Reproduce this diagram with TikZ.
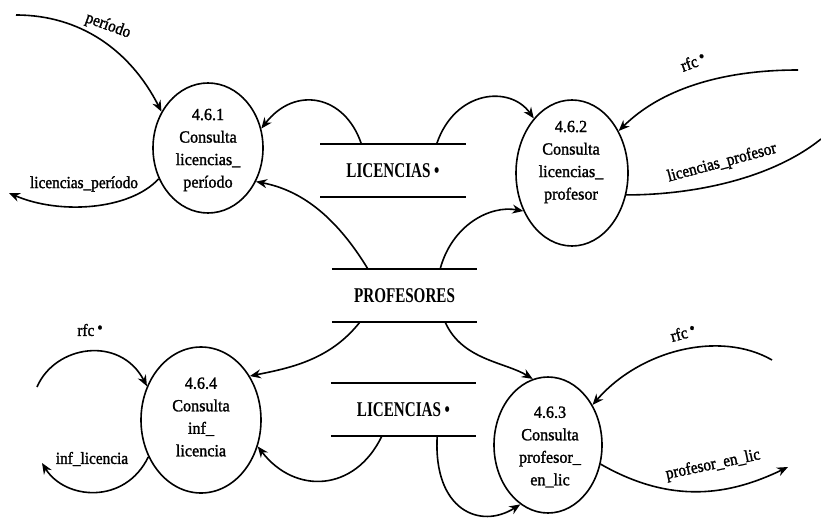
\documentclass[tikz,border=0pt]{standalone}
\usepackage{fontspec}
\setmainfont{Liberation Serif}
\newfontfamily\storefont[FakeStretch=0.72]{Liberation Serif Bold}
\newfontfamily\flowfont[FakeStretch=0.9,FakeBold=1.5]{Liberation Serif}
\newfontfamily\procfont[FakeStretch=0.95,FakeBold=1.5]{Liberation Serif}
\usetikzlibrary{shapes.geometric,arrows.meta}
\newcommand{\dotmark}{\hspace{3pt}\raisebox{0.35ex}{•}}
\tikzset{
  proc/.style={ellipse, draw, line width=1.6pt, inner sep=0pt},
  proctext/.style={align=center, inner sep=0pt,
    font=\procfont\fontsize{17}{22.5}\selectfont},
  store/.style={rectangle, inner sep=0pt, minimum width=145pt,
    font=\storefont\fontsize{21}{24}\selectfont},
  storeline/.style={line width=1.5pt},
  flow/.style={line width=1.6pt, -{Stealth[length=11pt,width=9pt]}},
  plainflow/.style={line width=1.6pt},
  flowlabel/.style={inner sep=1pt, font=\flowfont\fontsize{17}{20}\selectfont},
}
\begin{document}
\begin{tikzpicture}[x=1pt,y=-1pt]
\useasboundingbox (0,0) rectangle (821,522);

% processes: outline and caption
\node[proc, minimum width=110pt, minimum height=130pt] (p1) at (208,148) {};
\node[proctext] (p1t) at (208,150) {4.6.1\\Consulta\\licencias\_\\período};
\node[proc, minimum width=112pt, minimum height=146pt] (p2) at (572,173) {};
\node[proctext] (p2t) at (571,162) {4.6.2\\Consulta\\licencias\_\\profesor};
\node[proc, minimum width=120pt, minimum height=146pt] (p4) at (201,420) {};
\node[proctext] (p4t) at (201,417) {4.6.4\\Consulta\\inf\_\\licencia};
\node[proc, minimum width=108pt, minimum height=136pt] (p3) at (548,445) {};
\node[proctext] (p3t) at (550,447) {4.6.3\\Consulta\\profesor\_\\en\_lic};

% data stores
\node[store, minimum height=53pt] (s1) at (393,170.5) {LICENCIAS •};
\node[store, minimum height=53pt] (s2) at (404.5,295.5) {PROFESORES};
\node[store, minimum height=53pt] (s3) at (403.5,409.5) {LICENCIAS •};
\foreach \s in {s1,s2,s3}{
  \draw[storeline] (\s.north west) -- (\s.north east);
  \draw[storeline] (\s.south west) -- (\s.south east);
}

% external ends
\coordinate (e1) at (16,15);
\coordinate (e2) at (9,193);
\coordinate (e3) at (798,70);
\coordinate (e4) at (821,139);
\coordinate (e5) at (37,387);
\coordinate (e6) at (42,463);
\coordinate (e7) at (772,360);
\coordinate (e8) at (788,467);

% flows of 4.6.1
\draw[flow] (e1) .. controls (80,15) and (130,50) .. (p1.142);
\draw[flow] (p1.212) .. controls (130,210) and (60,215) .. (e2);
\draw[flow] ([xshift=41pt]s1.north west) .. controls (345,95) and (295,85) .. (p1.20);
\draw[flow] ([xshift=36pt]s2.north west) .. controls (335,215) and (300,190) .. (p1.-35);

% flows of 4.6.2
\draw[flow] ([xshift=-29pt]s1.north east) .. controls (455,90) and (510,85) .. (p2.125);
\draw[flow] ([xshift=-37pt]s2.north east) .. controls (452,225) and (490,205) .. (p2.218);
\draw[flow] (e3) .. controls (720,70) and (660,90) .. (p2.42);
\draw[plainflow] (p2.-22) .. controls (690,195) and (770,180) .. (e4);

% flows of 4.6.4
\draw[flow] ([xshift=28pt]s2.south west) .. controls (330,360) and (290,368) .. (p4.42);
\draw[flow] ([xshift=51pt]s3.south west) .. controls (355,492) and (295,495) .. (p4.-25);
\draw[flow] (e5) .. controls (55,345) and (120,335) .. (p4.148);
\draw[flow] (p4.215) .. controls (125,505) and (65,500) .. (e6);

% flows of 4.6.3
\draw[flow] ([xshift=-32pt]s2.south east) .. controls (462,360) and (505,362) .. (p3.103);
\draw[flow] ([xshift=-39pt]s3.south east) .. controls (433,510) and (480,530) .. (p3.245);
\draw[flow] (e7) .. controls (720,330) and (640,350) .. (p3.42);
\draw[flow] (p3.-20) .. controls (672,505) and (730,495) .. (e8);

% flow labels
\node[flowlabel, rotate=-20] (l1) at (108,26) {período};
\node[flowlabel] (l2) at (84,184) {licencias\_período};
\node[flowlabel, rotate=20] (l3) at (693,62) {rfc\dotmark};
\node[flowlabel, rotate=15] (l4) at (722,163) {licencias\_profesor};
\node[flowlabel] (l5) at (90,330) {rfc\dotmark};
\node[flowlabel] (l6) at (92,459) {inf\_licencia};
\node[flowlabel, rotate=15] (l7) at (683,333) {rfc\dotmark};
\node[flowlabel, rotate=12] (l8) at (713,465) {profesor\_en\_lic};
\end{tikzpicture}
\end{document}
